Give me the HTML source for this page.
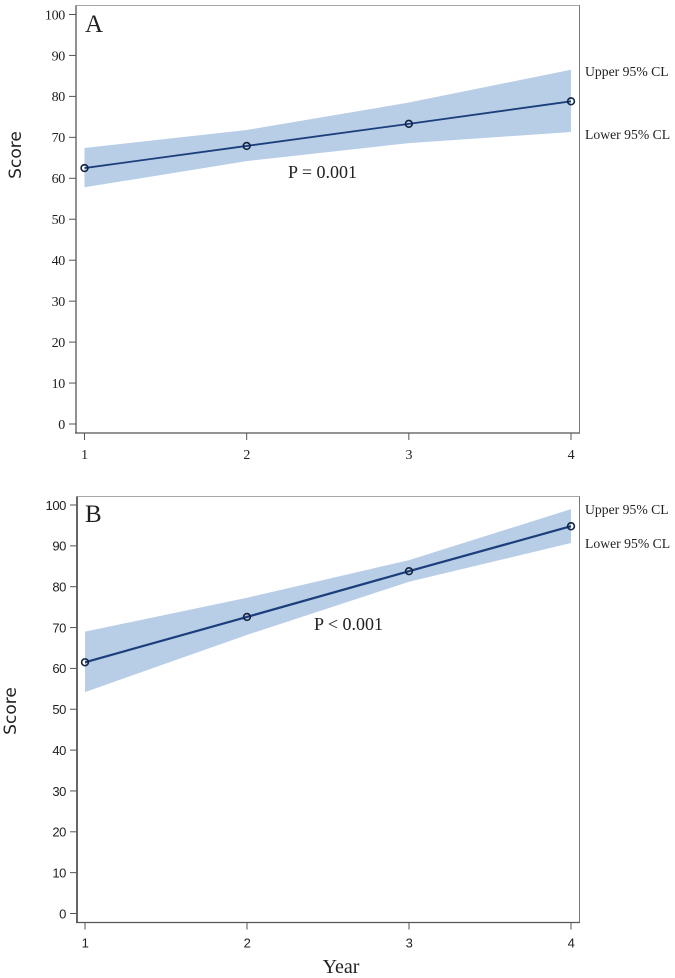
<!DOCTYPE html>
<html>
<head>
<meta charset="utf-8">
<style>
html,body{margin:0;padding:0;background:#fff;width:675px;height:978px;overflow:hidden}
svg{display:block}
text{fill:#222}
.serif{font-family:"Liberation Serif",serif}
.sans{font-family:"DejaVu Sans",sans-serif}
.tick{font-family:"Liberation Serif",serif;font-size:14px;letter-spacing:-0.3px}
.tickb{font-family:"Liberation Sans",sans-serif;font-size:13px;letter-spacing:-0.4px}
</style>
</head>
<body>
<svg id="chart" xmlns="http://www.w3.org/2000/svg" width="675" height="978" viewBox="0 0 675 978">
  <text class="serif" x="85" y="32" font-size="25">A</text>
  <text class="sans" transform="translate(21,155) rotate(-90)" text-anchor="middle" font-size="17">Score</text>
  <text class="serif" x="288" y="178" font-size="18">P = 0.001</text>
  <text class="serif" x="585" y="76" font-size="13.7">Upper 95% CL</text>
  <text class="serif" x="585" y="139" font-size="13.7">Lower 95% CL</text>

  <text class="serif" x="85" y="522" font-size="25">B</text>
  <text class="sans" transform="translate(16,711) rotate(-90)" text-anchor="middle" font-size="17">Score</text>
  <text class="serif" x="314" y="630" font-size="18">P &lt; 0.001</text>
  <text class="serif" x="585" y="514" font-size="13.7">Upper 95% CL</text>
  <text class="serif" x="585" y="548" font-size="13.7">Lower 95% CL</text>
  <text class="serif" x="341" y="973" text-anchor="middle" font-size="20">Year</text>
</svg>
<script>
var years = [1, 2, 3, 4];
var yTicks = [0, 10, 20, 30, 40, 50, 60, 70, 80, 90, 100];
var meanA = [62.5, 67.9, 73.3, 78.8];
var upperA = [67.4, 71.8, 78.5, 86.5];
var lowerA = [57.8, 64.2, 68.6, 71.3];
var meanB = [61.5, 72.6, 83.8, 94.8];
var upperB = [69.0, 77.3, 86.5, 99.0];
var lowerB = [54.2, 68.2, 81.2, 90.7];

var NS = 'http://www.w3.org/2000/svg';
var svg = document.getElementById('chart');

function make(tag, attrs, text) {
  var n = document.createElementNS(NS, tag);
  for (var k in attrs) n.setAttribute(k, attrs[k]);
  if (text !== undefined) n.textContent = text;
  svg.insertBefore(n, svg.firstChild);
  return n;
}
function append(n) { svg.appendChild(n); return n; }

function drawPanel(p, mean, upper, lower) {
  function xs(v) { return p.x1 + (v - years[0]) / (years[years.length - 1] - years[0]) * (p.x4 - p.x1); }
  function ys(v) { return p.y0 + (v / 100) * (p.y100 - p.y0); }

  var frame = make('rect', {x: p.left, y: p.top, width: p.right - p.left, height: p.bottom - p.top, fill: 'none', stroke: '#a8a8a8', 'stroke-width': 1});
  
  
  append(frame);

  var band = '';
  years.forEach(function (y, i) { band += (i ? ' ' : '') + xs(y) + ',' + ys(upper[i]); });
  for (var i = years.length - 1; i >= 0; i--) band += ' ' + xs(years[i]) + ',' + ys(lower[i]);
  var poly = make('polygon', {points: band, fill: '#b8cee6'});
  
  
  append(poly);

  var linePts = years.map(function (y, i) { return xs(y) + ',' + ys(mean[i]); }).join(' ');
  var line = make('polyline', {points: linePts, fill: 'none', stroke: '#1c3f7c', 'stroke-width': p.lw});
  
  
  append(line);

  years.forEach(function (y, i) {
    var c = make('circle', {cx: xs(y), cy: ys(mean[i]), r: 3.4, fill: 'none', stroke: '#14233f', 'stroke-width': 1.6});
    
    
    append(c);
  });

  var leftAxis = make('line', {x1: p.left, y1: p.top, x2: p.left, y2: p.bottom, stroke: '#555', 'stroke-width': p.axisW});
  
  
  append(leftAxis);

  var bottomAxis = make('line', {x1: p.left - 1, y1: p.bottom, x2: p.right + 0.5, y2: p.bottom, stroke: '#555', 'stroke-width': 1.3});
  
  
  append(bottomAxis);

  var rightAxis = make('line', {x1: p.right, y1: p.rightTop, x2: p.right, y2: p.bottom, stroke: '#777', 'stroke-width': 1});
  
  
  append(rightAxis);

  yTicks.forEach(function (t) {
    var m = make('line', {x1: p.left - 7, y1: ys(t), x2: p.left, y2: ys(t), stroke: '#555', 'stroke-width': 1});
    
    
    append(m);
    var l = make('text', {x: p.left - 11, y: ys(t) + 4.8, 'text-anchor': 'end', 'class': p.tickClass}, String(t));
    
    
    append(l);
  });

  years.forEach(function (y) {
    var m = make('line', {x1: xs(y), y1: p.bottom, x2: xs(y), y2: p.bottom + 7, stroke: '#555', 'stroke-width': 1});
    
    
    append(m);
    var l = make('text', {x: xs(y), y: p.bottom + 26 - p.labelUp, 'text-anchor': 'middle', 'class': p.tickClass}, String(y));
    
    
    append(l);
  });
}

drawPanel({left: 76, right: 579.5, top: 5.5, rightTop: 5.5, bottom: 433, x1: 84.5, x4: 571, y0: 424, y100: 14.5, lw: 1.8, axisW: 1.3, tickClass: 'tick', labelUp: 0}, meanA, upperA, lowerA);
drawPanel({left: 77, right: 579.5, top: 496.5, rightTop: 496.5, bottom: 922.5, x1: 85, x4: 571, y0: 913.5, y100: 505, lw: 2.2, axisW: 1.8, tickClass: 'tickb', labelUp: 1}, meanB, upperB, lowerB);
</script>
</body>
</html>
